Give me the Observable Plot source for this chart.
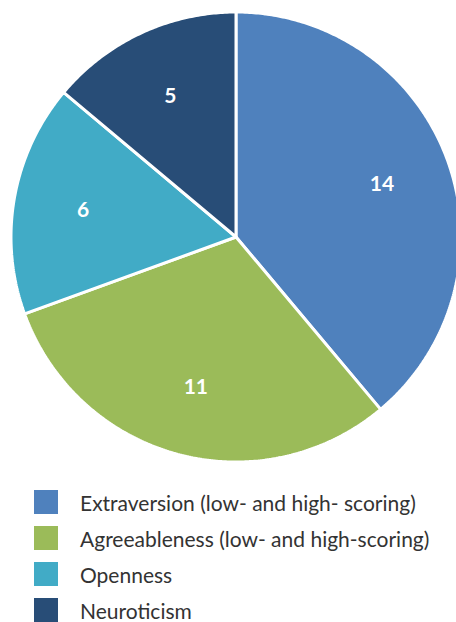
<!DOCTYPE html>
<html>
<head>
<meta charset="utf-8">
<script src="https://cdn.jsdelivr.net/npm/d3@7"></script>
<script src="https://cdn.jsdelivr.net/npm/@observablehq/plot@0.6"></script>
<style>
  html, body { margin: 0; padding: 0; background: #fff; overflow: hidden; }
  #chart { width: 456px; height: 622px; position: relative; }
  #chart svg { display: block; }
  .legend { padding: 12px 0 0 34px; font-family: Lato, "Noto Sans", sans-serif; }
  .row { display: flex; align-items: center; height: 36px; }
  .sw { width: 24px; height: 24px; margin-right: 22px; flex: none; }
  .lab { font-size: 21px; color: #333; white-space: nowrap; }
</style>
</head>
<body>
<div id="chart"></div>
<script>
// Personality traits and how many times each appears
const traits = ["Extraversion", "Agreeableness", "Openness", "Neuroticism"];
const legendLabels = [
  "Extraversion (low- and high- scoring)",
  "Agreeableness (low- and high-scoring)",
  "Openness",
  "Neuroticism"
];
const counts = [14, 11, 6, 5];
const colors = ["#4F81BD", "#9BBB59", "#41ABC6", "#284D77"];

const data = traits.map((t, i) => ({trait: t, value: counts[i]}));

// Slice angles, clockwise from 12 o'clock
const arcs = d3.pie().sort(null).value(d => d.value)(data);

// Outline of every slice in unit-circle coordinates: centre, arc, centre
const outline = [];
for (const a of arcs) {
  const n = Math.max(8, Math.ceil((a.endAngle - a.startAngle) / 0.01));
  outline.push({trait: a.data.trait, x: 0, y: 0});
  for (let k = 0; k <= n; k++) {
    const t = a.startAngle + (a.endAngle - a.startAngle) * k / n;
    outline.push({trait: a.data.trait, x: Math.sin(t), y: Math.cos(t)});
  }
  outline.push({trait: a.data.trait, x: 0, y: 0});
}

// Value labels placed inside each slice
const labelR = 0.69;
const labels = arcs.map(a => {
  const m = (a.startAngle + a.endAngle) / 2;
  return {trait: a.data.trait, value: a.data.value, x: labelR * Math.sin(m), y: labelR * Math.cos(m)};
});

const R = 225, cx = 235.5, cy = 236.5;
const chart = Plot.plot({
  width: 456,
  height: 472,
  margin: 0,
  style: {overflow: "hidden", background: "#fff"},
  x: {domain: [-1, 1], range: [cx - R, cx + R], axis: null},
  y: {domain: [-1, 1], range: [cy + R, cy - R], axis: null},
  color: {domain: traits, range: colors},
  marks: [
    Plot.line(outline, {
      x: "x", y: "y", z: "trait",
      fill: "trait",
      stroke: "#fff",
      strokeWidth: 3,
      strokeLinejoin: "miter",
      curve: "linear"
    }),
    Plot.text(labels, {
      x: "x", y: "y",
      text: d => String(d.value),
      fill: "#fff",
      fontSize: 21,
      fontWeight: "bold",
      fontFamily: "Lato, 'Noto Sans', sans-serif"
    })
  ]
});

const root = document.getElementById("chart");
root.appendChild(chart);

// Legend below the pie
const legend = document.createElement("div");
legend.className = "legend";
legendLabels.forEach((label, i) => {
  const row = document.createElement("div");
  row.className = "row";
  const sw = document.createElement("div");
  sw.className = "sw";
  sw.style.background = colors[i];
  const lab = document.createElement("span");
  lab.className = "lab";
  lab.textContent = label;
  row.appendChild(sw);
  row.appendChild(lab);
  legend.appendChild(row);
});
root.appendChild(legend);
</script>
</body>
</html>
